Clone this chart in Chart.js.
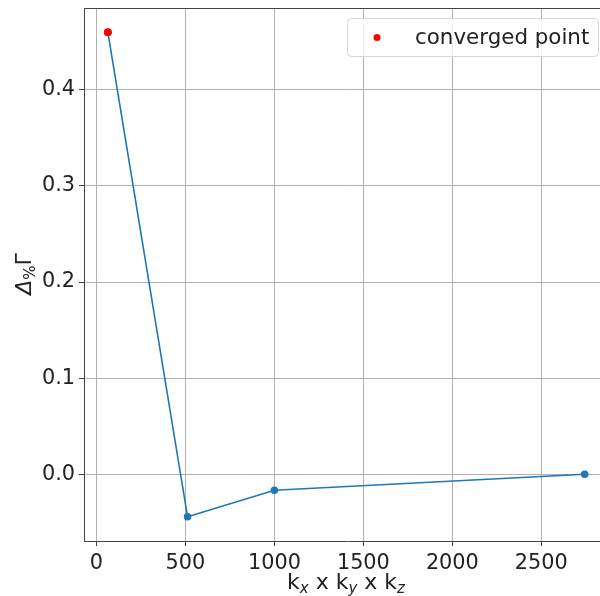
<!DOCTYPE html>
<html lang="en">
<head>
    <meta charset="UTF-8">
    <title>k-point convergence</title>
    <script src="https://cdn.jsdelivr.net/npm/chart.js"></script>
    <style>
        body {
            margin: 0;
            background-color: #ffffff;
        }
        /* the original figure is cropped just before its right spine */
        .chart-container {
            width: 600px;
            height: 596px;
            overflow: hidden;
        }
    </style>
</head>
<body>
    <div class="chart-container">
        <canvas id="convChart" width="610" height="596"></canvas>
    </div>

    <script>
        // k-mesh sizes (kx * ky * kz) and relative change of Gamma
        const kPoints = [64, 512, 1000, 2744];
        const deltaGamma = [0.46, -0.0442, -0.0166, 0.0];
        const convergedK = [64];
        const convergedDelta = [0.46];
        const xTicks = [0, 500, 1000, 1500, 2000, 2500];
        const yTicks = [0.0, 0.1, 0.2, 0.3, 0.4];
        const legendLabel = 'converged point';

        const FONT = '"DejaVu Sans", sans-serif';
        const FS = 20.8;  // tick labels
        const LFS = 22;   // axis titles
        const GFS = 21.4; // legend

        function noPad(scale) {
            scale.paddingTop = 0;
            scale.paddingBottom = 0;
            scale.paddingLeft = 0;
            scale.paddingRight = 0;
        }

        const overlay = {
            id: 'overlay',
            afterDraw(chart) {
                const ctx = chart.ctx;
                const area = chart.chartArea;
                ctx.save();

                // top spine
                ctx.strokeStyle = '#444';
                ctx.lineWidth = 1;
                ctx.beginPath();
                ctx.moveTo(area.left, area.top + 0.5);
                ctx.lineTo(area.right, area.top + 0.5);
                ctx.stroke();

                // legend box
                const bx = 347, by = 18, bw = 251, bh = 38;
                ctx.beginPath();
                ctx.roundRect(bx + 0.5, by + 0.5, bw, bh, 4);
                ctx.fillStyle = 'rgba(255,255,255,0.8)';
                ctx.fill();
                ctx.strokeStyle = '#d6d6d6';
                ctx.stroke();
                ctx.beginPath();
                ctx.arc(377, by + bh / 2 + 0.5, 3.5, 0, Math.PI * 2);
                ctx.fillStyle = 'red';
                ctx.fill();
                ctx.fillStyle = '#222';
                ctx.font = GFS + 'px ' + FONT;
                ctx.textBaseline = 'middle';
                ctx.textAlign = 'left';
                ctx.fillText(legendLabel, 415, by + bh / 2 + 1);

                // x axis title: k_x x k_y x k_z
                const parts = [
                    ['k', false], ['x', true], [' x k', false], ['y', true], [' x k', false], ['z', true]
                ];
                const subFont = 'italic ' + Math.round(LFS * 0.7) + 'px ' + FONT;
                const mainFont = LFS + 'px ' + FONT;
                let total = 0;
                parts.forEach(p => {
                    ctx.font = p[1] ? subFont : mainFont;
                    total += ctx.measureText(p[0]).width;
                });
                let x = 346 - total / 2;
                const baseY = 589;
                ctx.textBaseline = 'alphabetic';
                parts.forEach(p => {
                    ctx.font = p[1] ? subFont : mainFont;
                    ctx.fillText(p[0], x, p[1] ? baseY + 4 : baseY);
                    x += ctx.measureText(p[0]).width;
                });

                // y axis title: Delta_% Gamma, rotated
                ctx.translate(31, 274);
                ctx.rotate(-Math.PI / 2);
                const yparts = [
                    ['\u0394', 'italic ' + LFS + 'px ' + FONT, 0],
                    ['%', Math.round(LFS * 0.7) + 'px ' + FONT, 4],
                    ['\u0393', LFS + 'px ' + FONT, 0]
                ];
                total = 0;
                yparts.forEach(p => {
                    ctx.font = p[1];
                    total += ctx.measureText(p[0]).width;
                });
                x = -total / 2;
                yparts.forEach(p => {
                    ctx.font = p[1];
                    ctx.fillText(p[0], x, p[2]);
                    x += ctx.measureText(p[0]).width;
                });

                ctx.restore();
            }
        };

        const ctx = document.getElementById('convChart').getContext('2d');
        new Chart(ctx, {
            type: 'line',
            data: {
                datasets: [{
                    label: legendLabel,
                    data: convergedK.map((k, i) => ({ x: k, y: convergedDelta[i] })),
                    showLine: false,
                    pointRadius: 4,
                    pointBackgroundColor: 'red',
                    pointBorderWidth: 0,
                    borderColor: 'red'
                }, {
                    label: 'data',
                    data: kPoints.map((k, i) => ({ x: k, y: deltaGamma[i] })),
                    borderColor: '#1f77b4',
                    borderWidth: 1.6,
                    pointRadius: 3.8,
                    pointBackgroundColor: '#1f77b4',
                    pointBorderWidth: 0,
                    tension: 0
                }]
            },
            options: {
                responsive: false,
                animation: false,
                layout: {
                    autoPadding: false,
                    padding: { top: 8, right: 0, left: 0, bottom: 0 }
                },
                plugins: {
                    legend: { display: false },
                    tooltip: { enabled: false }
                },
                scales: {
                    x: {
                        type: 'linear',
                        min: -70,
                        max: 2886,
                        afterBuildTicks: scale => {
                            scale.ticks = xTicks.map(v => ({ value: v }));
                        },
                        afterFit: scale => {
                            scale.height = 55;
                            noPad(scale);
                        },
                        grid: {
                            color: '#b0b0b0',
                            lineWidth: 1,
                            tickLength: 5,
                            tickColor: '#444'
                        },
                        border: { color: '#444', width: 1 },
                        ticks: {
                            color: '#222',
                            font: { family: FONT, size: FS },
                            padding: 5,
                            maxRotation: 0,
                            callback: v => String(v)
                        }
                    },
                    y: {
                        min: -0.0694,
                        max: 0.4852,
                        afterBuildTicks: scale => {
                            scale.ticks = yTicks.map(v => ({ value: v }));
                        },
                        afterFit: scale => {
                            scale.width = 84;
                            noPad(scale);
                        },
                        grid: {
                            color: '#b0b0b0',
                            lineWidth: 1,
                            tickLength: 5,
                            tickColor: '#444'
                        },
                        border: { color: '#444', width: 1 },
                        ticks: {
                            color: '#222',
                            font: { family: FONT, size: FS },
                            padding: 4,
                            callback: v => v.toFixed(1)
                        }
                    }
                }
            },
            plugins: [overlay]
        });
    </script>
</body>
</html>
